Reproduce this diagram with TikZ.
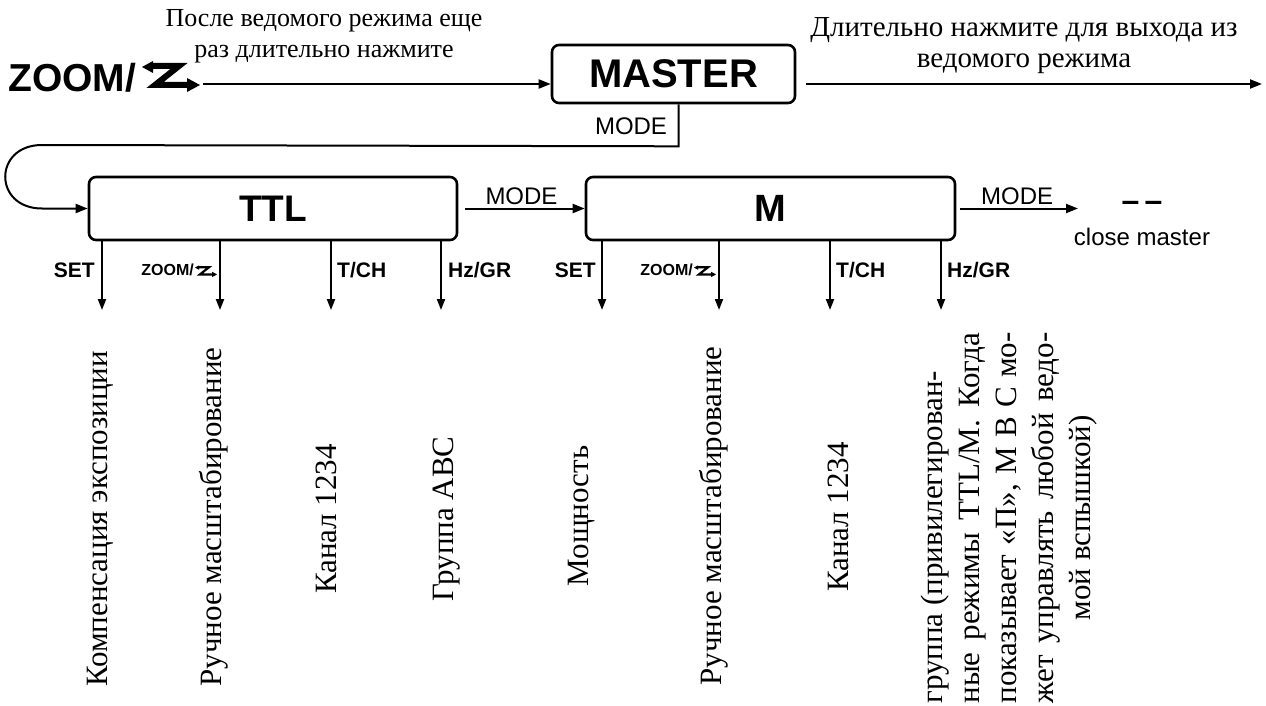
\documentclass[tikz,border=0pt]{standalone}
\usepackage{fontspec}
\setmainfont{Liberation Serif}
\newfontfamily\hv{Liberation Sans}
\usetikzlibrary{arrows.meta,calc}
\newlength{\pw}
\setlength{\pw}{371pt}
\begin{document}
\begin{tikzpicture}[x=1pt,y=-1pt,
  arr/.style={line width=2pt,-{Triangle[length=12pt,width=9pt]}},
  darr/.style={line width=2pt,-{Triangle[length=11pt,width=8pt]}},
  box/.style={draw,line width=2.6pt,rounded corners=7pt,inner sep=0pt},
  vtext/.style={rotate=90,font=\fontsize{31}{37}\selectfont,inner sep=0pt},
  mode/.style={font=\hv\fontsize{24}{26}\selectfont,inner sep=1pt},
  lab/.style={font=\hv\bfseries\fontsize{21}{23}\selectfont,inner sep=0pt},
  slab/.style={font=\hv\bfseries\fontsize{16}{18}\selectfont,inner sep=0pt},
  pics/zicon/.style={code={
    \fill (0,-9) -- (11,-15) -- (11,-3) -- cycle;
    \draw[line width=#1,miter limit=4] (8,-9) -- (11,-9) (11,-10) -- (37,-10) -- (13,9) -- (46,9);
    \fill (58,9) -- (45,2) -- (45,16) -- cycle;
  }}
]
\useasboundingbox (0,0) rectangle (1266,706);

% top row
\node[anchor=west,inner sep=0pt,font=\hv\bfseries\fontsize{39}{42}\selectfont] (zoom) at (8,78) {ZOOM/};
\pic at (142,76) {zicon=6pt};
\coordinate (zend) at (203,84);
\node[box,minimum width=243pt,minimum height=58pt,font=\hv\bfseries\fontsize{40}{44}\selectfont] (master) at (673.5,74) {MASTER};
\draw[arr] (zend) -- (master.west |- zend);
\node[font=\fontsize{26}{31}\selectfont,inner sep=0pt,align=center] (tl) at (324,36) {После ведомого режима еще\\раз длительно нажмите};
\node[font=\fontsize{29}{31}\selectfont,inner sep=0pt,align=center] (tr) at (1024,46) {Длительно нажмите для выхода из\\ведомого режима};
\coordinate (rend) at (1262,84);
\draw[arr,shorten <=10pt] (master.east |- rend) -- (rend);
\node[mode] (mlab) at (631,126) {MODE};

% mode boxes
\node[box,minimum width=368pt,minimum height=63pt,font=\hv\bfseries\fontsize{37}{40}\selectfont] (ttl) at (273,208.5) {TTL};
\node[box,minimum width=369pt,minimum height=63pt,font=\hv\bfseries\fontsize{38}{40}\selectfont] (m) at (770.5,208.5) {M};
\draw[arr] ($(master.south)+(5,0)$) -- ++(0,42) -- (42,145) .. controls (-7,145) and (-7,208.5) .. (42,208.5) -- (ttl.west);
\draw[arr,shorten <=7pt] (ttl.east) -- node[mode,above=2pt] (mode1) {MODE} (m.west);
\coordinate (cm) at (1078,208.5);
\draw[arr,shorten <=4pt] (m.east) -- node[mode,above=2pt] (mode2) {MODE} (cm);
\node[font=\hv\bfseries\fontsize{32}{34}\selectfont,inner sep=0pt] (dash) at (1142,206) {–\,–};
\node[font=\hv\fontsize{24}{26}\selectfont,inner sep=0pt] (close) at (1142,237) {close master};

% down arrows
\foreach \x/\n in {102/a1,220/a2,331/a3,441/a4}{
  \coordinate (\n) at (\x,310);
  \draw[darr] (ttl.south -| \n) -- (\n);
}
\foreach \x/\n in {602/b1,719/b2,830/b3,941/b4}{
  \coordinate (\n) at (\x,310);
  \draw[darr] (m.south -| \n) -- (\n);
}
\node[lab,anchor=east] (set1) at (95,270) {SET};
\node[slab,anchor=east] (zm1) at (194,270) {ZOOM/};
\pic[scale=0.38] at (195,271) {zicon=2.2pt};
\node[lab,anchor=west] (tch1) at (337,270) {T/CH};
\node[lab,anchor=west] (hz1) at (448,270) {Hz/GR};
\node[lab,anchor=east] (set2) at (596,270) {SET};
\node[slab,anchor=east] (zm2) at (693,270) {ZOOM/};
\pic[scale=0.38] at (694,271) {zicon=2.2pt};
\node[lab,anchor=west] (tch2) at (836,270) {T/CH};
\node[lab,anchor=west] (hz2) at (947,270) {Hz/GR};

% vertical texts
\node[vtext] (v1) at (100,519) {Компенсация экспозиции};
\node[vtext] (v2) at (214,517) {Ручное масштабирование};
\node[vtext] (v3) at (326,519) {Канал 1234};
\node[vtext] (v4) at (447,519) {Группа ABC};
\node[vtext] (v5) at (582,516) {Мощность};
\node[vtext] (v6) at (714,516) {Ручное масштабирование};
\node[vtext] (v7) at (838,517) {Канал 1234};
\node[vtext,align=center] (v8) at (1009,518) {\makebox[\pw][l]{группа (привилегирован-}\\
\makebox[\pw][s]{ные режимы TTL/M. Когда}\\
\makebox[\pw][s]{показывает «П», M B C мо-}\\
\makebox[\pw][s]{жет управлять любой ведо-}\\
мой вспышкой)};
\end{tikzpicture}
\end{document}
